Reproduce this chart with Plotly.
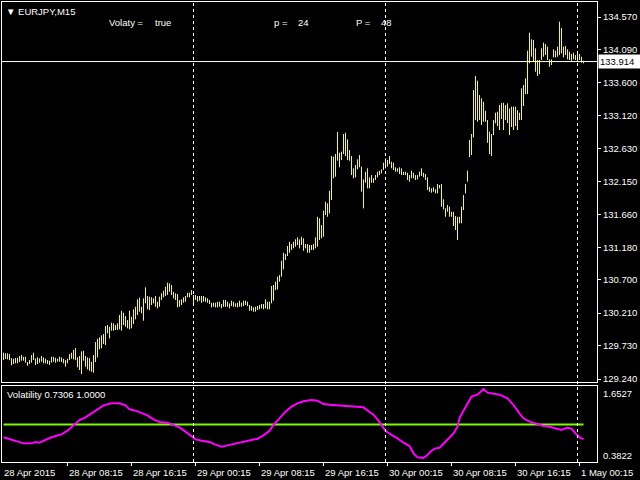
import plotly.graph_objects as go
import pandas as pd

# ---------------- data ----------------
symbol_label = "▼ EURJPY,M15"
start_time = pd.Timestamp("2015-04-28 00:00")
bar_minutes = 15
first_bar = 1  # index of first listed bar (28 Apr 00:15)

highs = [
    129.627, 129.618, 129.618, 129.608, 129.549, 129.539, 129.549, 129.553, 129.578, 129.593,
    129.568, 129.568, 129.490, 129.519, 129.593, 129.627, 129.544, 129.559, 129.544, 129.578,
    129.559, 129.539, 129.519, 129.509, 129.568, 129.568, 129.553, 129.539, 129.568, 129.559,
    129.539, 129.519, 129.539, 129.608, 129.627, 129.667, 129.696, 129.559, 129.578, 129.647,
    129.656, 129.578, 129.559, 129.549, 129.495, 129.593, 129.784, 129.833, 129.854, 129.883,
    129.902, 130.020, 130.035, 130.010, 130.069, 130.060, 130.035, 130.060, 130.182, 130.245,
    130.216, 130.167, 130.108, 130.245, 130.157, 130.266, 130.304, 130.413, 130.437, 130.304,
    130.428, 130.590, 130.462, 130.452, 130.443, 130.428, 130.462, 130.378, 130.452, 130.501,
    130.540, 130.599, 130.658, 130.649, 130.624, 130.525, 130.501, 130.491, 130.403, 130.413,
    130.443, 130.462, 130.510, 130.510, 130.550, 130.477, 130.477, 130.462, 130.462, 130.462,
    130.462, 130.443, 130.428, 130.403, 130.363, 130.363, 130.363, 130.378, 130.378, 130.344,
    130.403, 130.403, 130.378, 130.354, 130.393, 130.378, 130.354, 130.363, 130.393, 130.363,
    130.393, 130.393, 130.378, 130.329, 130.314, 130.295, 130.304, 130.314, 130.329, 130.344,
    130.344, 130.413, 130.378, 130.378, 130.609, 130.624, 130.673, 130.746, 130.771, 130.982,
    131.099, 131.080, 131.198, 131.261, 131.227, 131.261, 131.297, 131.326, 131.297, 131.335,
    131.311, 131.227, 131.227, 131.213, 131.213, 131.227, 131.326, 131.629, 131.606, 131.507,
    131.718, 131.850, 131.827, 132.012, 132.523, 132.513, 132.553, 132.877, 132.572, 132.587,
    132.847, 132.866, 132.769, 132.611, 132.523, 132.342, 132.390, 132.474, 132.538, 132.366,
    132.180, 132.292, 132.342, 132.209, 132.243, 132.195, 132.243, 132.292, 132.307, 132.327,
    132.425, 132.489, 132.464, 132.523, 132.439, 132.425, 132.357, 132.342, 132.357, 132.342,
    132.292, 132.292, 132.277, 132.243, 132.307, 132.277, 132.243, 132.243, 132.292, 132.342,
    132.277, 132.258, 132.209, 132.071, 132.047, 132.062, 132.033, 132.111, 132.096, 132.111,
    131.886, 131.753, 131.802, 131.777, 131.703, 131.703, 131.640, 131.629, 131.629, 131.777,
    131.949, 132.111, 132.307, 132.759, 132.847, 133.495, 133.701, 133.632, 133.421, 133.373,
    133.323, 133.190, 133.053, 132.881, 132.847, 133.053, 133.161, 133.176, 133.274, 133.304,
    133.308, 133.274, 133.299, 133.225, 133.249, 133.249, 133.249, 133.200, 133.161, 133.520,
    133.569, 133.667, 134.074, 134.339, 134.241, 134.231, 134.109, 133.937, 133.937, 134.109,
    134.192, 134.172, 134.133, 133.947, 133.947, 134.094, 134.074, 134.133, 134.501, 134.408,
    134.133, 134.143, 134.094, 134.059, 134.025, 134.044, 134.010, 134.035, 134.025, 133.985,
    133.926,
]

lows = [
    129.519, 129.534, 129.529, 129.519, 129.441, 129.461, 129.471, 129.471, 129.490, 129.509,
    129.509, 129.480, 129.435, 129.461, 129.480, 129.519, 129.446, 129.461, 129.480, 129.495,
    129.471, 129.471, 129.461, 129.446, 129.480, 129.495, 129.480, 129.495, 129.495, 129.490,
    129.471, 129.421, 129.471, 129.519, 129.539, 129.529, 129.519, 129.412, 129.372, 129.313,
    129.509, 129.421, 129.382, 129.362, 129.347, 129.333, 129.490, 129.559, 129.677, 129.692,
    129.755, 129.740, 129.912, 129.839, 129.951, 129.951, 129.961, 129.961, 129.971, 129.951,
    130.035, 130.010, 129.986, 129.971, 129.986, 130.049, 130.118, 130.182, 130.231, 130.207,
    130.098, 130.354, 130.266, 130.256, 130.329, 130.354, 130.304, 130.280, 130.304, 130.403,
    130.443, 130.462, 130.477, 130.525, 130.477, 130.428, 130.403, 130.295, 130.304, 130.329,
    130.363, 130.378, 130.443, 130.443, 130.477, 130.344, 130.403, 130.378, 130.393, 130.363,
    130.378, 130.378, 130.363, 130.344, 130.295, 130.304, 130.295, 130.295, 130.304, 130.280,
    130.304, 130.304, 130.304, 130.280, 130.314, 130.304, 130.304, 130.295, 130.304, 130.304,
    130.314, 130.329, 130.314, 130.245, 130.245, 130.231, 130.231, 130.256, 130.266, 130.280,
    130.266, 130.280, 130.266, 130.266, 130.354, 130.393, 130.550, 130.560, 130.673, 130.746,
    130.855, 130.992, 131.051, 131.099, 131.139, 131.164, 131.188, 131.213, 131.164, 131.213,
    131.129, 131.164, 131.099, 131.099, 131.139, 131.139, 131.164, 131.188, 131.286, 131.311,
    131.335, 131.654, 131.629, 131.679, 131.875, 132.195, 132.218, 132.454, 132.357, 132.464,
    132.553, 132.523, 132.464, 132.454, 132.243, 132.195, 132.209, 132.327, 132.357, 131.997,
    131.753, 132.130, 132.047, 132.047, 132.130, 132.130, 132.170, 132.209, 132.243, 132.268,
    132.317, 132.342, 132.366, 132.405, 132.342, 132.317, 132.292, 132.292, 132.258, 132.243,
    132.243, 132.243, 132.170, 132.145, 132.195, 132.195, 132.170, 132.180, 132.218, 132.229,
    132.209, 132.170, 132.022, 131.997, 131.983, 131.997, 131.974, 131.974, 132.047, 131.777,
    131.738, 131.629, 131.703, 131.629, 131.629, 131.492, 131.434, 131.286, 131.532, 131.532,
    131.728, 131.974, 132.145, 132.508, 132.538, 132.798, 133.053, 133.028, 133.053, 132.980,
    133.028, 133.028, 132.719, 132.553, 132.523, 132.832, 133.005, 132.965, 132.906, 133.068,
    132.906, 133.053, 133.009, 132.832, 132.950, 132.906, 132.965, 132.906, 133.053, 133.053,
    133.259, 133.436, 133.436, 133.888, 133.985, 133.912, 133.764, 133.701, 133.730, 133.937,
    133.985, 134.010, 133.937, 133.838, 133.863, 133.976, 133.976, 133.985, 134.010, 134.035,
    133.976, 134.010, 133.947, 133.937, 133.926, 133.947, 133.937, 133.912, 133.937, 133.897,
    133.888,
]

vol_bars = [1, 4, 7, 11, 15, 17, 19, 21, 24, 27, 30, 33, 35, 37, 39, 42, 45, 48, 51, 55,
            59, 62, 64, 67, 70, 73, 76, 79, 83, 86, 89, 92, 95, 97, 100, 104, 107, 110, 113, 116,
            119, 122, 125, 128, 131, 134, 136, 138, 140, 142, 145, 148, 151, 155, 158, 161, 164, 169, 173, 177,
            181, 184, 186, 188, 190, 192, 195, 198, 201, 204, 206, 208, 211, 213, 215, 217, 219, 221, 223, 226,
            228, 229, 231, 233, 235, 238, 241, 243, 246, 249, 253, 256, 259, 261, 264, 267, 271, 274, 277, 280,
            283, 285, 287, 289, 291]
vol_vals = [0.763, 0.726, 0.689, 0.652, 0.652, 0.677, 0.664, 0.701, 0.750, 0.787, 0.818, 0.885, 0.947, 1.020, 1.082, 1.131, 1.205, 1.278, 1.352, 1.389,
            1.389, 1.352, 1.278, 1.254, 1.217, 1.168, 1.094, 1.045, 1.033, 0.984, 0.947, 0.867, 0.787, 0.726, 0.701, 0.677, 0.628, 0.591, 0.615, 0.640,
            0.677, 0.701, 0.714, 0.738, 0.800, 0.885, 0.990, 1.070, 1.156, 1.235, 1.327, 1.389, 1.426, 1.450, 1.438, 1.376, 1.364, 1.352, 1.340, 1.327,
            1.315, 1.229, 1.180, 1.094, 0.990, 0.885, 0.806, 0.744, 0.664, 0.603, 0.468, 0.394, 0.3822, 0.437, 0.517, 0.560, 0.572, 0.652, 0.726, 0.836,
            0.959, 1.113, 1.254, 1.389, 1.512, 1.548, 1.6527, 1.585, 1.561, 1.548, 1.481, 1.358, 1.205, 1.113, 1.051, 1.021, 0.971, 0.959, 0.922, 0.898,
            0.941, 0.922, 0.836, 0.763, 0.7306]
vol_level = 1.0
vol_current = 0.7306
last_price = 133.914

price_ticks = [134.570, 134.090, 133.600, 133.120, 132.630, 132.150,
               131.660, 131.180, 130.700, 130.210, 129.730, 129.240]
vol_scale = [1.6527, 0.3822]
time_ticks = ["2015-04-28 00:00", "2015-04-28 08:15", "2015-04-28 16:15",
              "2015-04-29 00:15", "2015-04-29 08:15", "2015-04-29 16:15",
              "2015-04-30 00:15", "2015-04-30 08:15", "2015-04-30 16:15",
              "2015-05-01 00:15"]
time_labels = ["28 Apr 2015", "28 Apr 08:15", "28 Apr 16:15",
               "29 Apr 00:15", "29 Apr 08:15", "29 Apr 16:15",
               "30 Apr 00:15", "30 Apr 08:15", "30 Apr 16:15",
               "1 May 00:15"]
day_separators = ["2015-04-29 00:00", "2015-04-30 00:00", "2015-05-01 00:00"]
params = [("Volaty =", "true"), ("p =", "24"), ("P =", "48")]

# ---------------- figure ----------------
FONT = "Liberation Sans, Arial, sans-serif"
W, H = 640, 480
ML, MR, MT, MB = 2, 43, 2, 18
PW, PH = W - ML - MR, H - MT - MB
X0_BAR, X1_BAR = 0.25, 297.75   # visible bar range


def bar_time(i):
    return start_time + pd.Timedelta(minutes=bar_minutes * i)


def time_to_bar(t):
    return (pd.Timestamp(t) - start_time) / pd.Timedelta(minutes=bar_minutes)


times = [bar_time(first_bar + k) for k in range(len(highs))]

xs, ys = [], []
for t, hi, lo in zip(times, highs, lows):
    xs += [t, t, None]
    ys += [lo, hi, None]

fig = go.Figure()
fig.add_trace(go.Scatter(x=xs, y=ys, mode="lines", line=dict(color="#FFFF00", width=1),
                         xaxis="x", yaxis="y", hoverinfo="skip", showlegend=False))

fig.add_trace(go.Scatter(x=[times[0], times[-1]], y=[vol_level, vol_level], mode="lines",
                         line=dict(color="#7CFC00", width=2), xaxis="x2", yaxis="y2",
                         showlegend=False))
fig.add_trace(go.Scatter(x=[bar_time(b) for b in vol_bars], y=vol_vals, mode="lines",
                         line=dict(color="#FF00FF", width=2), xaxis="x2", yaxis="y2",
                         showlegend=False))

x_range = [str(bar_time(X0_BAR)), str(bar_time(X1_BAR))]
main_dom = [(PH - 380) / PH, 1.0]
sub_dom = [0.0, 76 / PH]

axis_common = dict(showgrid=False, zeroline=False, showline=True, mirror=True,
                   linecolor="white", linewidth=1)

fig.update_layout(
    width=W, height=H, autosize=False,
    margin=dict(l=ML, r=MR, t=MT, b=MB, pad=0),
    paper_bgcolor="black", plot_bgcolor="black",
    showlegend=False,
    font=dict(family=FONT, size=9, color="white"),
    xaxis=dict(domain=[0, 1], anchor="y", range=x_range, showticklabels=False,
               ticks="", **axis_common),
    yaxis=dict(domain=main_dom, anchor="x", range=[129.196, 134.791], side="right",
               tickvals=price_ticks, ticktext=[f"{v:.3f}" for v in price_ticks],
               ticks="outside", ticklen=3, tickcolor="white",
               tickfont=dict(family=FONT, size=9.5, color="white"), **axis_common),
    xaxis2=dict(domain=[0, 1], anchor="y2", range=x_range, showticklabels=False,
                tickvals=time_ticks, ticks="outside", ticklen=3, tickcolor="white",
                **axis_common),
    yaxis2=dict(domain=sub_dom, anchor="x2", range=[0.3086, 1.708], side="right",
                showticklabels=False, ticks="", **axis_common),
)

shapes = []
for d in day_separators:
    shapes.append(dict(type="line", xref="x", yref="paper", x0=d, x1=d, y0=0, y1=1,
                       line=dict(color="white", width=1, dash="3px,3px")))
shapes.append(dict(type="line", xref="paper", yref="y", x0=0, x1=1, y0=last_price,
                   y1=last_price, line=dict(color="white", width=1)))
fig.update_layout(shapes=shapes)


def px_x(px):
    return (px - ML) / PW


def px_y(py):
    return (H - MB - py) / PH


ann = []


def text(px, py, s, anchor="left", size=9.5, color="white", **kw):
    ann.append(dict(x=px_x(px), y=px_y(py), xref="paper", yref="paper", text=s,
                    showarrow=False, xanchor=anchor, yanchor="middle",
                    font=dict(family=FONT, size=size, color=color), **kw))


text(4, 11, symbol_label)
param_pos = [(107, 153), (272, 296), (354, 379)]
for (lab, val), (p1, p2) in zip(params, param_pos):
    text(p1, 23, lab)
    text(p2, 23, val)

text(5, 394, f"Volatility {vol_current:.4f} {vol_level:.4f}")
text(601, 393, f"{vol_scale[0]:.4f}")
text(601, 455, f"{vol_scale[1]:.4f}")

for t, lab in zip(time_ticks, time_labels):
    b = max(time_to_bar(t), 0.75)
    ann.append(dict(x=(b - X0_BAR) / (X1_BAR - X0_BAR), y=0, xref="paper", yref="paper",
                    text=lab, showarrow=False, xanchor="left", yanchor="top", yshift=-3,
                    xshift=-1, font=dict(family=FONT, size=9.5, color="white")))

ann.append(dict(x=1, y=last_price, xref="paper", yref="y", text=f"{last_price:.3f}",
                showarrow=False, xanchor="left", yanchor="middle", xshift=1,
                bgcolor="white", borderpad=1, width=40, align="left",
                font=dict(family=FONT, size=9.5, color="black")))

fig.update_layout(annotations=ann)

fig.write_html(
    "out.html",
    config={"displayModeBar": False},
    post_script="document.body.style.margin='0px';document.body.style.padding='0px';"
                "document.body.style.background='black';"
                "document.documentElement.style.overflow='hidden';",
)
